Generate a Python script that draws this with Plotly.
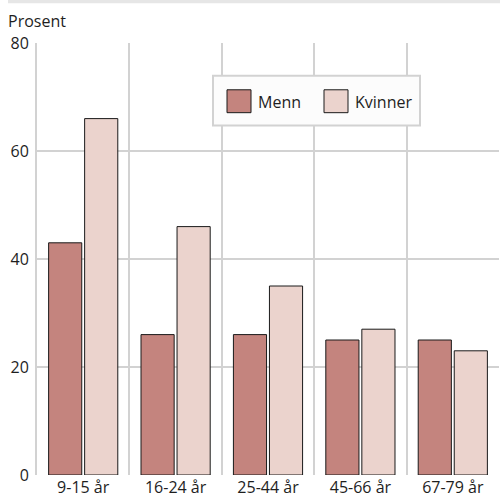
import plotly.graph_objects as go

categories = ["9-15 år", "16-24 år", "25-44 år", "45-66 år", "67-79 år"]
menn = [43, 26, 26, 25, 25]
kvinner = [66, 46, 35, 27, 23]
series_names = ["Menn", "Kvinner"]
colors = ["#c4847e", "#ebd3cd"]
yticks = [0, 20, 40, 60, 80]

xpos = list(range(len(categories)))
FONT = "Open Sans"
GRID = "#d2d2d2"
TXT = "#1e1e1e"

fig = go.Figure()
for name, vals, col in zip(series_names, [menn, kvinner], colors):
    fig.add_trace(go.Bar(x=xpos, y=vals, name=name, marker_color=col,
                         marker_line_color="#1a1a1a", marker_line_width=1,
                         showlegend=False))

# invisible trace to activate the category-boundary grid axis
fig.add_trace(go.Scatter(x=[-0.5, len(categories) - 0.5], y=[0, 0], xaxis="x2",
                         mode="markers", marker_opacity=0, showlegend=False,
                         hoverinfo="skip"))

fig.update_layout(
    width=500, height=499,
    margin=dict(l=37, r=1, t=43, b=22),
    paper_bgcolor="white", plot_bgcolor="white",
    barmode="group", bargap=0.22, bargroupgap=0.08,
    font=dict(family=FONT, size=16, color=TXT),
    xaxis=dict(range=[-0.5, len(categories) - 0.5], tickvals=xpos, ticktext=categories,
               showgrid=False, zeroline=False, showline=False, ticks="",
               tickfont=dict(size=16), ticklabelstandoff=1),
    xaxis2=dict(overlaying="x", range=[-0.5, len(categories) - 0.5],
                tickvals=[i - 0.5 for i in range(len(categories) + 1)],
                showticklabels=False, showgrid=True, gridcolor=GRID, gridwidth=2,
                zeroline=False, ticks="", layer="below traces"),
    yaxis=dict(range=[0, 80], tickvals=yticks, showgrid=True, gridcolor=GRID, gridwidth=2,
               zeroline=False, showline=True, linecolor=GRID, linewidth=2,
               ticks="", tickfont=dict(size=16), ticklabelstandoff=3),
)

def px_x(px):
    return (px - 37) / 462

def px_y(py):
    return (477 - py) / 434

# top grey band
fig.add_shape(type="rect", xref="paper", yref="paper", x0=px_x(8), x1=px_x(500),
              y0=px_y(3), y1=px_y(-1), fillcolor="#e6e6e6", line_width=0)
# legend box
fig.add_shape(type="rect", xref="paper", yref="paper", x0=px_x(213), x1=px_x(420),
              y0=px_y(126), y1=px_y(76), fillcolor="#fcfcfc",
              line=dict(color=GRID, width=2))
sq = [(227, 251), (324, 348)]
txt_x = [256, 353]
for (a, b), tx, name, col in zip(sq, txt_x, series_names, colors):
    fig.add_shape(type="rect", xref="paper", yref="paper", x0=px_x(a), x1=px_x(b),
                  y0=px_y(113), y1=px_y(90), fillcolor=col,
                  line=dict(color="#1a1a1a", width=1))
    fig.add_annotation(xref="paper", yref="paper", x=px_x(tx), y=px_y(102),
                       text=name, showarrow=False, xanchor="left", yanchor="middle",
                       font=dict(size=16, family=FONT, color=TXT))

fig.add_annotation(xref="paper", yref="paper", x=px_x(6), y=px_y(21),
                   text="Prosent", showarrow=False, xanchor="left", yanchor="middle",
                   font=dict(size=16, family=FONT, color=TXT))

fig.write_html("out.html", config={"displayModeBar": False},
               post_script="document.body.style.margin='0';")
